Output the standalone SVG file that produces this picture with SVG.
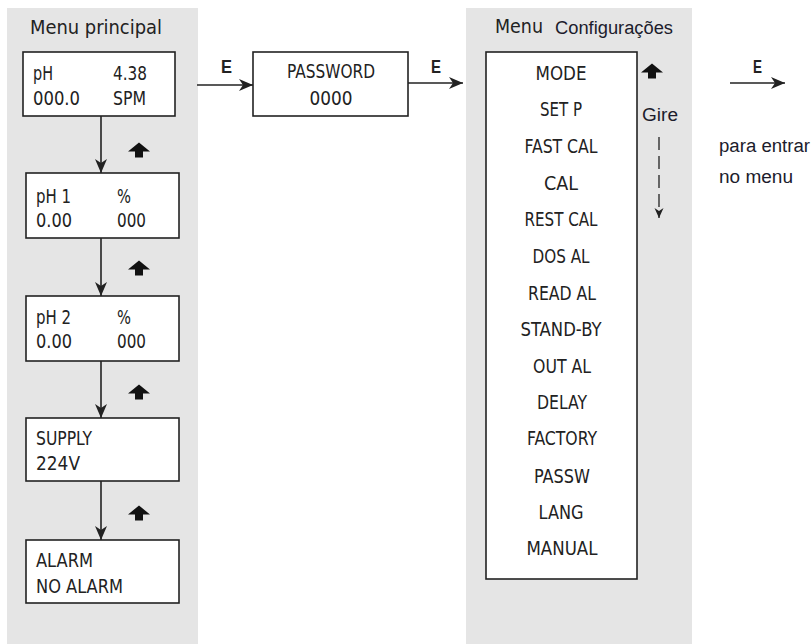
<svg xmlns="http://www.w3.org/2000/svg" width="811" height="644" viewBox="0 0 811 644">
<style>
.panel{fill:#e5e5e5}
.box{fill:#fff;stroke:#222;stroke-width:1.6}
.t{font-family:"Liberation Sans Narrow","DejaVu Sans Condensed","Liberation Sans",sans-serif;font-size:20px;fill:#222}
.c{text-anchor:middle}
.a{font-family:"Liberation Sans",Arial,sans-serif;font-size:18px;fill:#1c1c2c}
.e{font-family:"Liberation Sans Narrow","Liberation Sans",sans-serif;font-size:19px;font-weight:bold;fill:#222}
.ln{stroke:#222;stroke-width:1.6;fill:none}
.up{fill:#111}
</style>
<defs>
<marker id="ah" markerWidth="16" markerHeight="14" refX="14" refY="7" orient="auto" markerUnits="userSpaceOnUse">
<path d="M0,1 L14,7 L0,13 L4,7 Z" fill="#222"/>
</marker>
<marker id="ah2" markerWidth="12" markerHeight="10" refX="10" refY="5" orient="auto" markerUnits="userSpaceOnUse">
<path d="M0,0.5 L10,5 L0,9.5 L3,5 Z" fill="#222"/>
</marker>
<path id="upi" d="M0,-7.5 L11,1.5 L4,1.5 L4,7.5 L-4,7.5 L-4,1.5 L-11,1.5 Z"/>
</defs>

<rect class="panel" x="7" y="8" width="191" height="636"/>
<rect class="panel" x="466" y="8" width="226" height="636"/>

<g id="title-main">
<text class="t" x="30" y="34" font-size="22" textLength="132" lengthAdjust="spacingAndGlyphs">Menu principal</text>
</g>

<g id="node-ph">
<rect class="box" x="23" y="52" width="152" height="64"/>
<text class="t" x="33" y="80" textLength="20" lengthAdjust="spacingAndGlyphs">pH</text>
<text class="t" x="113" y="80" textLength="34" lengthAdjust="spacingAndGlyphs">4.38</text>
<text class="t" x="33" y="105" textLength="47" lengthAdjust="spacingAndGlyphs">000.0</text>
<text class="t" x="113" y="105" textLength="33" lengthAdjust="spacingAndGlyphs">SPM</text>
</g>

<g id="node-ph1">
<rect class="box" x="26" y="173" width="153" height="65"/>
<text class="t" x="36" y="203" textLength="35" lengthAdjust="spacingAndGlyphs">pH 1</text>
<text class="t" x="117" y="203" textLength="14" lengthAdjust="spacingAndGlyphs">%</text>
<text class="t" x="36" y="227" textLength="36" lengthAdjust="spacingAndGlyphs">0.00</text>
<text class="t" x="117" y="227" textLength="29" lengthAdjust="spacingAndGlyphs">000</text>
</g>

<g id="node-ph2">
<rect class="box" x="26" y="296" width="153" height="65"/>
<text class="t" x="36" y="324" textLength="35" lengthAdjust="spacingAndGlyphs">pH 2</text>
<text class="t" x="117" y="324" textLength="14" lengthAdjust="spacingAndGlyphs">%</text>
<text class="t" x="36" y="348" textLength="36" lengthAdjust="spacingAndGlyphs">0.00</text>
<text class="t" x="117" y="348" textLength="29" lengthAdjust="spacingAndGlyphs">000</text>
</g>

<g id="node-supply">
<rect class="box" x="26" y="418" width="153" height="63"/>
<text class="t" x="36" y="445" textLength="56" lengthAdjust="spacingAndGlyphs">SUPPLY</text>
<text class="t" x="36" y="470" textLength="44" lengthAdjust="spacingAndGlyphs">224V</text>
</g>

<g id="node-alarm">
<rect class="box" x="26" y="540" width="153" height="63"/>
<text class="t" x="36" y="567" textLength="57" lengthAdjust="spacingAndGlyphs">ALARM</text>
<text class="t" x="36" y="593" textLength="87" lengthAdjust="spacingAndGlyphs">NO ALARM</text>
</g>

<g id="node-password">
<rect class="box" x="253" y="52" width="155" height="64"/>
<text class="t c" x="331" y="78" textLength="88" lengthAdjust="spacingAndGlyphs">PASSWORD</text>
<text class="t c" x="331" y="105" textLength="43" lengthAdjust="spacingAndGlyphs">0000</text>
</g>

<g id="title-config">
<text class="t" x="495" y="33" textLength="48" lengthAdjust="spacingAndGlyphs">Menu</text>
<text class="a" x="555" y="34" textLength="118" lengthAdjust="spacingAndGlyphs">Configurações</text>
</g>

<g id="node-config">
<rect class="box" x="486" y="52" width="151" height="527"/>
<text class="t c" x="561" y="80" textLength="51" lengthAdjust="spacingAndGlyphs">MODE</text>
<text class="t c" x="561" y="116" textLength="42" lengthAdjust="spacingAndGlyphs">SET P</text>
<text class="t c" x="561" y="153" textLength="73" lengthAdjust="spacingAndGlyphs">FAST CAL</text>
<text class="t c" x="561" y="190" textLength="34" lengthAdjust="spacingAndGlyphs">CAL</text>
<text class="t c" x="561" y="226" textLength="73" lengthAdjust="spacingAndGlyphs">REST CAL</text>
<text class="t c" x="561" y="263" textLength="57" lengthAdjust="spacingAndGlyphs">DOS AL</text>
<text class="t c" x="562" y="300" textLength="68" lengthAdjust="spacingAndGlyphs">READ AL</text>
<text class="t c" x="561" y="336" textLength="81" lengthAdjust="spacingAndGlyphs">STAND-BY</text>
<text class="t c" x="562" y="373" textLength="58" lengthAdjust="spacingAndGlyphs">OUT AL</text>
<text class="t c" x="562" y="409" textLength="50" lengthAdjust="spacingAndGlyphs">DELAY</text>
<text class="t c" x="562" y="445" textLength="70" lengthAdjust="spacingAndGlyphs">FACTORY</text>
<text class="t c" x="562" y="483" textLength="56" lengthAdjust="spacingAndGlyphs">PASSW</text>
<text class="t c" x="561" y="519" textLength="45" lengthAdjust="spacingAndGlyphs">LANG</text>
<text class="t c" x="562" y="555" textLength="71" lengthAdjust="spacingAndGlyphs">MANUAL</text>
</g>

<g id="connectors">
<line class="ln" x1="101" y1="116" x2="101" y2="173" marker-end="url(#ah)"/>
<line class="ln" x1="101" y1="238" x2="101" y2="296" marker-end="url(#ah)"/>
<line class="ln" x1="101" y1="361" x2="101" y2="418" marker-end="url(#ah)"/>
<line class="ln" x1="101" y1="481" x2="101" y2="540" marker-end="url(#ah)"/>
<line class="ln" x1="197" y1="85" x2="253" y2="85" marker-end="url(#ah)"/>
<line class="ln" x1="408" y1="83" x2="463" y2="83" marker-end="url(#ah)"/>
<line class="ln" x1="730" y1="83" x2="785" y2="83" marker-end="url(#ah)"/>
<line x1="659" y1="137" x2="659" y2="218" stroke="#222" stroke-width="1.3" stroke-dasharray="13,6" marker-end="url(#ah2)"/>
<text class="e" x="221" y="73" textLength="11" lengthAdjust="spacingAndGlyphs">E</text>
<text class="e" x="431" y="73" textLength="10" lengthAdjust="spacingAndGlyphs">E</text>
<text class="e" x="753" y="73" textLength="9" lengthAdjust="spacingAndGlyphs">E</text>
</g>

<g id="scroll-icons">
<use href="#upi" class="up" x="139" y="150"/>
<use href="#upi" class="up" x="139" y="268"/>
<use href="#upi" class="up" x="139" y="392"/>
<use href="#upi" class="up" x="139" y="513"/>
<use href="#upi" class="up" x="652" y="71"/>
</g>

<g id="labels">
<text class="a" x="642" y="121" textLength="36" lengthAdjust="spacingAndGlyphs">Gire</text>
<text class="a" x="719" y="152" textLength="91" lengthAdjust="spacingAndGlyphs">para entrar</text>
<text class="a" x="719" y="183" textLength="74" lengthAdjust="spacingAndGlyphs">no menu</text>
</g>
</svg>
